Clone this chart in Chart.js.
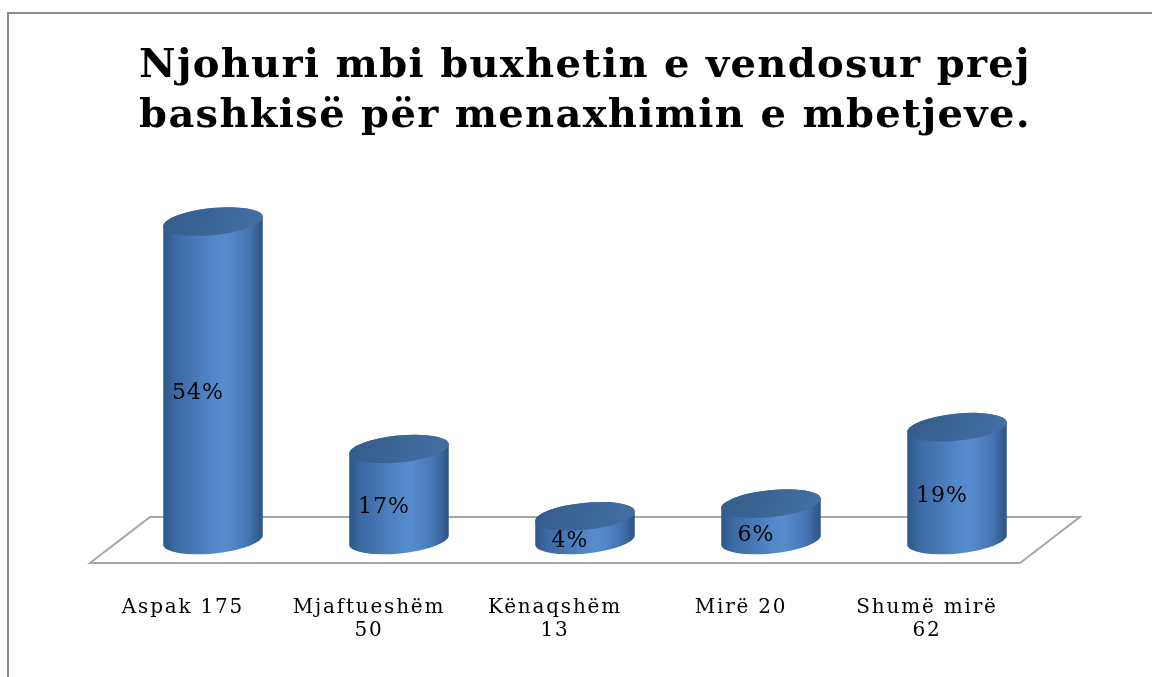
<!DOCTYPE html>
<html><head><meta charset="utf-8">
<script src="https://cdn.jsdelivr.net/npm/chart.js@4.4.0/dist/chart.umd.min.js"></script>
<style>
html,body{margin:0;padding:0;background:#fff;}
#wrap{position:relative;width:1152px;height:677px;overflow:hidden;}
#frame{position:absolute;left:7px;top:12px;width:1200px;height:700px;border-top:2px solid #8c8c8c;border-left:2px solid #8c8c8c;pointer-events:none;}
canvas{position:absolute;left:0;top:0;}
</style></head><body>
<div id="wrap"><canvas id="c" width="1152" height="677"></canvas><div id="frame"></div></div>
<script>
const titleLines = ["Njohuri mbi buxhetin e vendosur prej", "bashkisë për menaxhimin e mbetjeve."];
const categories = [["Aspak 175"], ["Mjaftueshëm", "50"], ["Kënaqshëm", "13"], ["Mirë 20"], ["Shumë mirë", "62"]];
const counts = [175, 50, 13, 20, 62];
const percents = [54, 17, 4, 6, 19];

const DEPTH_X = 30, DEPTH_Y = 23;

function drawCylinder(ctx, cx, top, base, rx, ry, rot) {
  const ex = rx * Math.cos(rot), ey = rx * Math.sin(rot);
  const g = ctx.createLinearGradient(cx - rx, 0, cx + rx, 0);
  g.addColorStop(0, '#2E5788');
  g.addColorStop(0.12, '#3B69A3');
  g.addColorStop(0.5, '#5287C8');
  g.addColorStop(0.62, '#578DCE');
  g.addColorStop(0.85, '#4576B3');
  g.addColorStop(1, '#2C5384');
  ctx.beginPath();
  ctx.moveTo(cx + ex, top + ey);
  ctx.lineTo(cx + ex, base + ey);
  ctx.ellipse(cx, base, rx, ry, rot, 0, Math.PI, false);
  ctx.lineTo(cx - ex, top - ey);
  ctx.ellipse(cx, top, rx, ry, rot, Math.PI, 2 * Math.PI, false);
  ctx.closePath();
  ctx.fillStyle = g;
  ctx.fill();
  const tg = ctx.createLinearGradient(cx - rx, top - ry, cx + rx, top + ry);
  tg.addColorStop(0, '#345B8B');
  tg.addColorStop(1, '#4570A5');
  ctx.beginPath();
  ctx.ellipse(cx, top, rx, ry, rot, 0, 2 * Math.PI);
  ctx.fillStyle = tg;
  ctx.fill();
}

function withSpacing(obj, method, spacing) {
  if (!obj || obj['__sp_' + method]) return;
  const orig = obj[method];
  obj[method] = function (...args) {
    const ctx = this.ctx;
    const prev = ctx.letterSpacing;
    ctx.letterSpacing = spacing;
    const r = orig.apply(this, args);
    ctx.letterSpacing = prev || '0px';
    return r;
  };
  obj['__sp_' + method] = true;
}

const spacingPlugin = {
  id: 'spacing',
  beforeDraw(chart) {
    withSpacing(chart.scales.x, 'drawLabels', '1.8px');
    withSpacing(chart.titleBlock, 'draw', '1.3px');
  }
};

const floorPlugin = {
  id: 'floor',
  beforeDatasetsDraw(chart) {
    const { ctx, chartArea: a } = chart;
    const b = a.bottom;
    ctx.save();
    ctx.beginPath();
    ctx.moveTo(a.left - DEPTH_X, b + DEPTH_Y);
    ctx.lineTo(a.left + DEPTH_X, b - DEPTH_Y);
    ctx.lineTo(a.right + DEPTH_X, b - DEPTH_Y);
    ctx.lineTo(a.right - DEPTH_X, b + DEPTH_Y);
    ctx.closePath();
    ctx.fillStyle = '#ffffff';
    ctx.fill();
    ctx.strokeStyle = '#a6a6a6';
    ctx.lineWidth = 2;
    ctx.stroke();
    ctx.restore();
  }
};

const cylPlugin = {
  id: 'cyl',
  afterDatasetsDraw(chart) {
    const { ctx } = chart;
    const meta = chart.getDatasetMeta(0);
    ctx.save();
    meta.data.forEach((bar) => {
      drawCylinder(ctx, bar.x, bar.y, bar.base, bar.width / 2, 13.5, -0.1);
    });
    ctx.fillStyle = '#000';
    ctx.textAlign = 'center';
    ctx.textBaseline = 'middle';
    ctx.font = '22px "DejaVu Serif"';
    ctx.letterSpacing = '1px';
    meta.data.forEach((bar, i) => {
      const y = (bar.y + bar.base) / 2 + 13;
      ctx.fillText(percents[i] + '%', bar.x - 15, y);
    });
    ctx.letterSpacing = '0px';
    ctx.restore();
  }
};

new Chart(document.getElementById('c'), {
  type: 'bar',
  data: {
    labels: categories,
    datasets: [{
      data: counts,
      backgroundColor: 'rgba(0,0,0,0)',
      borderWidth: 0,
      barThickness: 100
    }]
  },
  options: {
    responsive: false,
    animation: false,
    devicePixelRatio: 1,
    layout: { padding: { left: 120, right: 102, top: 0, bottom: 0 } },
    plugins: {
      legend: { display: false },
      tooltip: { enabled: false },
      title: {
        display: true,
        text: titleLines,
        color: '#000',
        font: { family: '"DejaVu Serif"', weight: 'bold', size: 40, lineHeight: 1.25 },
        padding: { top: 42, bottom: 34 }
      }
    },
    scales: {
      x: {
        grid: { display: false },
        border: { display: false },
        ticks: {
          color: '#000',
          font: { family: '"DejaVu Serif"', size: 20, lineHeight: 1.15 },
          padding: 48,
          labelOffset: -DEPTH_X,
          maxRotation: 0,
          autoSkip: false
        },
        afterFit(scale) { scale.height = 137; }
      },
      y: {
        display: false,
        min: 0,
        max: 200
      }
    }
  },
  plugins: [spacingPlugin, floorPlugin, cylPlugin]
});
</script>
</body></html>
